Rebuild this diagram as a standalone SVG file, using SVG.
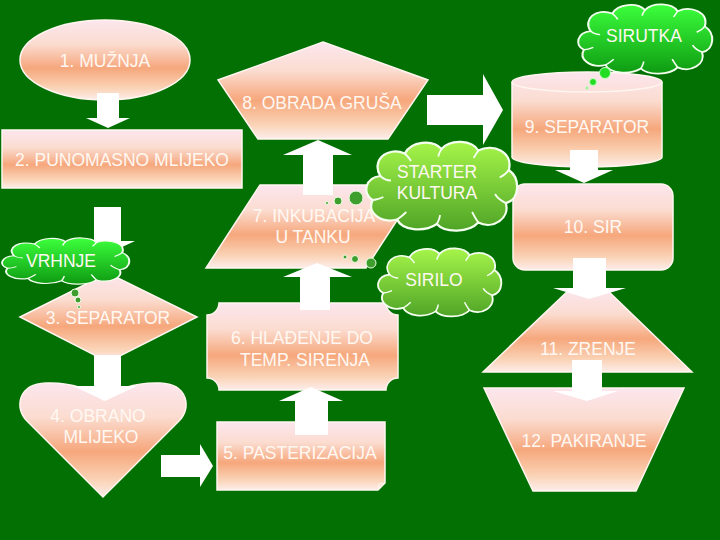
<svg xmlns="http://www.w3.org/2000/svg" width="720" height="540" viewBox="0 0 720 540">
<defs>
<linearGradient id="ng" x1="0" y1="0" x2="0" y2="1">
<stop offset="0" stop-color="#FCE6EE"/>
<stop offset="0.3" stop-color="#FBDCD0"/>
<stop offset="0.6" stop-color="#F6A77C"/>
<stop offset="0.85" stop-color="#FAD3B6"/>
<stop offset="1" stop-color="#FDEDEA"/>
</linearGradient>
<linearGradient id="cg1" x1="0" y1="0" x2="0" y2="1">
<stop offset="0" stop-color="#3CFF3C"/>
<stop offset="1" stop-color="#0E9A12"/>
</linearGradient>
<linearGradient id="cg2" x1="0" y1="0" x2="0" y2="1">
<stop offset="0" stop-color="#A6F54A"/>
<stop offset="1" stop-color="#4FA426"/>
</linearGradient>
<path id="cloud" d="M10,24 C4,14 14,4 26,9 C30,1 44,-1 50,6 C56,-1 70,0 74,7 C84,2 97,8 94,20 C102,26 101,40 92,42 C95,52 84,60 74,55 C68,62 52,62 47,56 C38,62 24,60 21,53 C10,56 1,48 5,40 C-2,36 0,25 10,24 Z"/>
<path id="cloudin" d="M10,24 C12,26 14,27 17,27 M26,9 C28,11 29,12 30,14 M50,6 C49,8 48,9 48,11 M74,7 C73,9 72,10 71,12 M94,20 C92,23 90,24 88,25 M92,42 C88,40 86,38 85,36 M74,55 C72,52 71,50 70,48 M47,56 C48,54 49,52 49,50 M21,53 C24,51 26,49 27,48 M5,40 C8,40 10,39 12,38"/>
<style>
.node{fill:url(#ng);stroke:#FFF6F0;stroke-width:1.5}
.arrow{fill:#FFFFFF}
.t{font-family:"Liberation Sans",Arial,sans-serif;font-size:17.5px;fill:#FFF8F2;text-anchor:middle}
.cl{stroke:#F4FFF0;stroke-width:1.5;vector-effect:non-scaling-stroke}
.cli{fill:none;stroke:#F4FFF0;stroke-width:1.2;vector-effect:non-scaling-stroke}
.b1{fill:#22DD22;stroke:#C8FFC8;stroke-width:1}
.b2{fill:#3E9E2E;stroke:#EFFFE8;stroke-width:1}
</style>
</defs>
<rect x="0" y="0" width="720" height="540" fill="#037003"/>

<g id="n1"><ellipse class="node" cx="105" cy="60" rx="85" ry="40"/><text class="t" x="105" y="67">1. MUŽNJA</text></g>
<g id="n2"><rect class="node" x="2" y="130" width="240" height="58"/><text class="t" x="122" y="166">2. PUNOMASNO MLIJEKO</text></g>
<g id="n3"><polygon class="node" points="20,317 108,273 197,317 108,362"/><text class="t" x="108" y="324">3. SEPARATOR</text></g>
<g id="n4"><path class="node" d="M103,497 L27,421 C14,408 18,384 46,383 C72,382 92,390 103,400 C114,390 134,382 160,383 C188,384 192,408 179,421 Z"/><text class="t" x="98" y="422">4. OBRANO</text><text class="t" x="101" y="443">MLIJEKO</text></g>
<g id="n5"><path class="node" d="M217,422 H385 V483 L378,490 H217 Z"/><path d="M385,483 L379,484 L378,490" fill="none" stroke="#FFF6F0" stroke-width="1"/><text class="t" x="300" y="459">5. PASTERIZACIJA</text></g>
<g id="n6"><path class="node" d="M219,303 H386 A12,12 0 0 0 398,315 V378 A12,12 0 0 0 386,390 H219 A12,12 0 0 0 207,378 V315 A12,12 0 0 0 219,303 Z"/><text class="t" x="302" y="344">6. HLAĐENJE DO</text><text class="t" x="305" y="366">TEMP. SIRENJA</text></g>
<g id="n7"><polygon class="node" points="260,185 420,185 366,268 206,268"/><text class="t" x="314" y="222">7. INKUBACIJA</text><text class="t" x="313" y="243">U TANKU</text></g>
<g id="n8"><polygon class="node" points="323,42 428,80 388,139 258,139 218,80"/><text class="t" x="322" y="109">8. OBRADA GRUŠA</text></g>
<g id="n9"><path class="node" d="M512,82 L512,157 A75,10 0 0 0 662,157 L662,82 A75,10 0 0 0 512,82 Z"/><path d="M512,82 A75,10 0 0 0 662,82" fill="none" stroke="#FFF6F0" stroke-width="1.5"/><text class="t" x="587" y="133">9. SEPARATOR</text></g>
<g id="n10"><rect class="node" x="513" y="184" width="160" height="86" rx="12"/><text class="t" x="593" y="233">10. SIR</text></g>
<g id="n11"><polygon class="node" points="570,289 606,289 692,372 483,372"/><text class="t" x="588" y="355">11. ZRENJE</text></g>
<g id="n12"><polygon class="node" points="484,388 684,388 636,491 533,491"/><text class="t" x="584" y="447">12. PAKIRANJE</text></g>

<g id="connectors">
<polygon class="arrow" points="97,93 119,93 119,118 130,118 108,128 86,118 97,118"/>
<polygon class="arrow" points="94,207 121,207 121,241 135,241 107,254 80,241 94,241"/>
<polygon class="arrow" points="94,355 121,355 121,386 137,386 105,401 73,386 94,386"/>
<polygon class="arrow" points="161,455 200,455 200,444 213,466 200,487 200,477 161,477"/>
<polygon class="arrow" points="295,435 328,435 328,401 343,401 311,387 279,401 295,401"/>
<polygon class="arrow" points="300,310 330,310 330,277 352,277 317,263 283,277 300,277"/>
<polygon class="arrow" points="303,195 333,195 333,155 352,155 318,140 283,155 303,155"/>
<polygon class="arrow" points="427,95 483,95 483,74 503,110 483,145 483,125 427,125"/>
<polygon class="arrow" points="570,150 598,150 598,170 613,170 584,183 555,170 570,170"/>
<polygon class="arrow" points="573,258 606,258 606,288 626,288 589,299 553,288 573,288"/>
<polygon class="arrow" points="572,360 602,360 602,391 618,391 587,401 553,391 572,391"/>
</g>

<g id="sirutka">
<g transform="translate(577,3) scale(1.36,1.17)"><use href="#cloud" class="cl" fill="url(#cg1)"/><use href="#cloudin" class="cli"/></g>
<circle class="b1" cx="605" cy="73" r="5.5"/><circle class="b1" cx="593" cy="82" r="3.5"/><circle class="b1" cx="587" cy="88" r="1.2"/>
<text class="t" x="644" y="42">SIRUTKA</text>
</g>
<g id="starter">
<g transform="translate(365,140) scale(1.53,1.5)"><use href="#cloud" class="cl" fill="url(#cg2)"/><use href="#cloudin" class="cli"/></g>
<circle class="b2" cx="356" cy="198" r="7"/><circle class="b2" cx="338" cy="201" r="4"/><circle class="b2" cx="327" cy="203" r="1.5"/>
<text class="t" x="437" y="178">STARTER</text><text class="t" x="437" y="199">KULTURA</text>
</g>
<g id="sirilo">
<g transform="translate(377,247) scale(1.25,1.15)"><use href="#cloud" class="cl" fill="url(#cg2)"/><use href="#cloudin" class="cli"/></g>
<circle class="b2" cx="371" cy="263" r="5"/><circle class="b2" cx="355" cy="259" r="3.5"/><circle class="b2" cx="345" cy="257" r="2"/>
<text class="t" x="434" y="286">SIRILO</text>
</g>
<g id="vrhnje">
<g transform="translate(1,237) scale(1.29,0.78)"><use href="#cloud" class="cl" fill="url(#cg1)"/><use href="#cloudin" class="cli"/></g>
<circle class="b2" cx="75" cy="293" r="4"/><circle class="b2" cx="78" cy="300" r="3"/><circle class="b2" cx="79" cy="307" r="1.5"/>
<text class="t" x="61" y="267">VRHNJE</text>
</g>
</svg>
